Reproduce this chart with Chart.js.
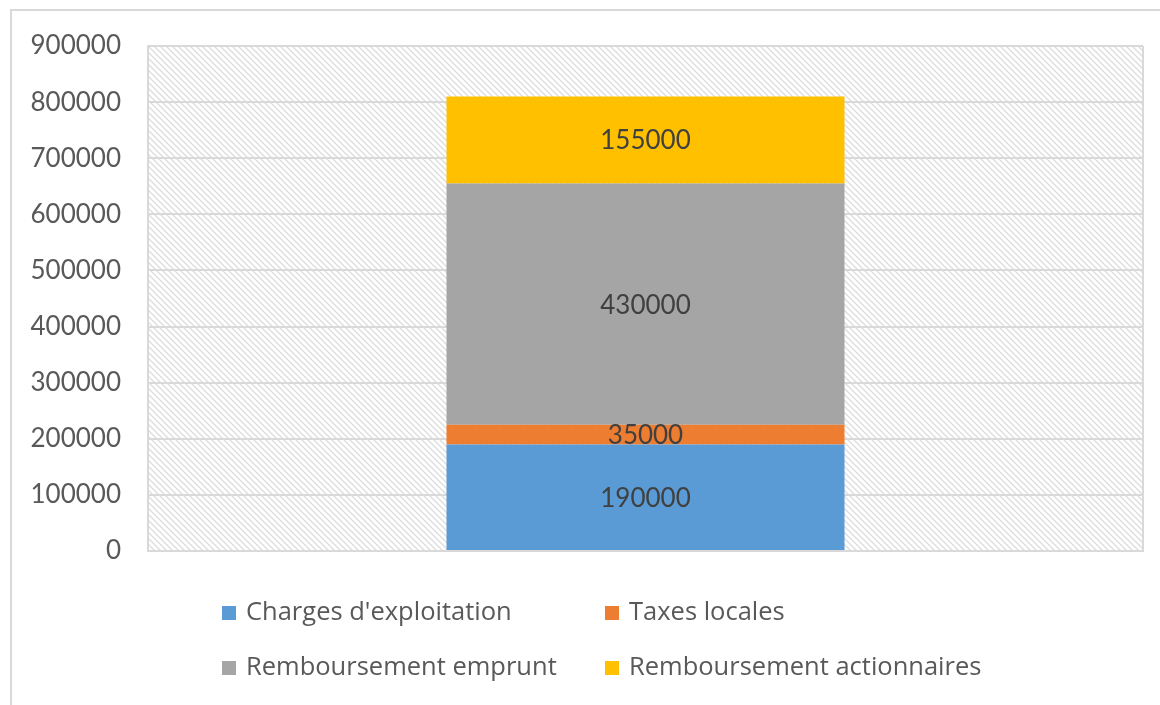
<!DOCTYPE html>
<html>
<head>
<meta charset="utf-8">
<script src="https://cdn.jsdelivr.net/npm/chart.js@4"></script>
<style>
  html, body { margin: 0; padding: 0; background: #fff; overflow: hidden; }
  #frame {
    position: absolute; left: 10px; top: 9px;
    width: 1300px; height: 900px;
    border: 2px solid #d9d9d9;
  }
  #wrap { position: absolute; left: 0; top: 0; width: 1160px; height: 705px; }
</style>
</head>
<body>
<div id="frame"></div>
<div id="wrap"><canvas id="chart"></canvas></div>
<script>
// data
const categories = [''];
const seriesNames = ["Charges d'exploitation", 'Taxes locales', 'Remboursement emprunt', 'Remboursement actionnaires'];
const chargesExploitation = [190000];
const taxesLocales = [35000];
const remboursementEmprunt = [430000];
const remboursementActionnaires = [155000];
const yTicks = [0, 100000, 200000, 300000, 400000, 500000, 600000, 700000, 800000, 900000];

const colors = ['#5b9bd5', '#ed7d31', '#a5a5a5', '#ffc000'];
const FONT = 'Lato, "Open Sans", sans-serif';
const LEGEND_FONT = '"Open Sans", Lato, sans-serif';

// hatched plot background
function makeHatch() {
  const c = document.createElement('canvas');
  c.width = 6; c.height = 6;
  const g = c.getContext('2d');
  g.fillStyle = '#fff';
  g.fillRect(0, 0, 6, 6);
  g.strokeStyle = '#dcdcdc';
  g.lineWidth = 1.3;
  g.beginPath();
  g.moveTo(-1, -1); g.lineTo(7, 7);
  g.moveTo(-4, 2); g.lineTo(4, 10);
  g.moveTo(2, -4); g.lineTo(10, 4);
  g.stroke();
  return c;
}

const plotBackground = {
  id: 'plotBackground',
  beforeDraw(chart) {
    const { ctx, chartArea: a } = chart;
    ctx.save();
    ctx.fillStyle = ctx.createPattern(makeHatch(), 'repeat');
    ctx.fillRect(a.left, a.top, a.right - a.left, a.bottom - a.top);
    ctx.restore();
  }
};

// value labels centred in each segment
const segmentLabels = {
  id: 'segmentLabels',
  afterDatasetsDraw(chart) {
    const { ctx } = chart;
    ctx.save();
    ctx.font = '26px ' + FONT;
    ctx.fillStyle = '#404040';
    ctx.textAlign = 'center';
    ctx.textBaseline = 'middle';
    chart.data.datasets.forEach((ds, i) => {
      chart.getDatasetMeta(i).data.forEach((bar, j) => {
        const mid = (bar.y + bar.base) / 2;
        ctx.fillText(String(ds.data[j]), bar.x, mid + 1);
      });
    });
    ctx.restore();
  }
};

// 2x2 legend below the plot
const gridLegend = {
  id: 'gridLegend',
  afterDraw(chart) {
    const { ctx } = chart;
    const cols = [222, 605];
    const rows = [613, 668];
    ctx.save();
    ctx.font = '25.5px ' + LEGEND_FONT;
    ctx.textBaseline = 'middle';
    chart.data.datasets.forEach((ds, i) => {
      const x = cols[i % 2];
      const y = rows[Math.floor(i / 2)];
      ctx.fillStyle = ds.backgroundColor;
      ctx.fillRect(x, y - 7, 14, 14);
      ctx.fillStyle = '#595959';
      ctx.fillText(ds.label, x + 24, y);
    });
    ctx.restore();
  }
};

const values = [chargesExploitation, taxesLocales, remboursementEmprunt, remboursementActionnaires];

new Chart(document.getElementById('chart'), {
  type: 'bar',
  data: {
    labels: categories,
    datasets: seriesNames.map((name, i) => ({
      label: name,
      data: values[i],
      backgroundColor: colors[i],
      borderWidth: 0,
      barPercentage: 0.4,
      categoryPercentage: 1
    }))
  },
  options: {
    responsive: true,
    maintainAspectRatio: false,
    animation: false,
    layout: { padding: { left: 0, right: 17, top: 46, bottom: 154 } },
    plugins: {
      legend: { display: false },
      tooltip: { enabled: false }
    },
    scales: {
      x: {
        stacked: true,
        ticks: { display: false },
        grid: { color: '#d9d9d9', lineWidth: 2, drawTicks: false },
        border: { color: '#d9d9d9', width: 2 }
      },
      y: {
        stacked: true,
        min: 0,
        max: 900000,
        afterBuildTicks(scale) {
          scale.ticks = yTicks.map(v => ({ value: v }));
        },
        afterFit(scale) { scale.width = 148; },
        ticks: {
          padding: 27,
          color: '#595959',
          font: { family: FONT, size: 26 },
          callback: v => String(v)
        },
        grid: { color: '#d9d9d9', lineWidth: 2, drawTicks: false },
        border: { color: '#d9d9d9', width: 2 }
      }
    }
  },
  plugins: [plotBackground, segmentLabels, gridLegend]
});
</script>
</body>
</html>
